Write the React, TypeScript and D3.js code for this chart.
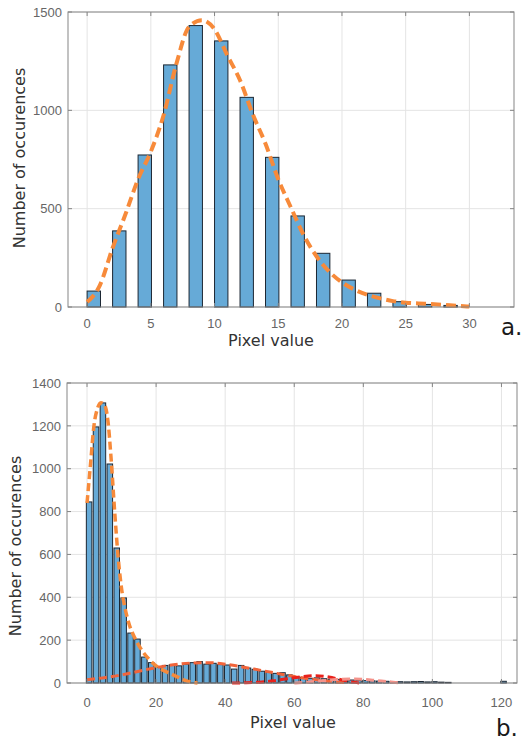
import React from "react";
import * as d3 from "d3";

// ---- panel a. ----
const topBins = [0, 2, 4, 6, 8, 10, 12, 14, 16, 18, 20, 22, 24, 26, 28];
const topCounts = [81, 387, 773, 1231, 1431, 1353, 1066, 761, 463, 273, 137, 70, 27, 13, 8];
const topFitX = [0, 1, 2, 3, 4, 5, 6, 7, 8, 9, 10, 11, 12, 13, 14, 15, 16, 17, 18, 19, 20, 21, 22, 23, 24, 25, 26, 27, 28, 29, 30];
const topFitY = [25, 110, 300, 470, 650, 790, 975, 1235, 1425, 1458, 1412, 1280, 1153, 980, 830, 650, 505, 365, 258, 180, 125, 88, 62, 44, 30, 22, 18, 15, 11, 6, 2];
const topXTicks = [0, 5, 10, 15, 20, 25, 30];
const topYTicks = [0, 500, 1000, 1500];

// ---- panel b. ----
const botCounts = [
  845, 1195, 1307, 1022, 630, 397, 233, 205, 121, 95, 75, 82, 85, 80, 88, 95, 100, 88, 92, 86, 84, 65, 82, 70, 64, 55,
  50, 45, 48, 38, 30, 26, 22, 24, 20, 18, 17, 15, 14, 12, 11, 10, 9, 8, 7, 6, 5, 6, 7, 5, 6, 4, 3,
  0, 0, 0, 0, 0, 0, 0, 8,
];
const botBins = botCounts.map((_, i) => i * 2);
const fit1X = [0, 1, 2, 3, 4, 5, 6, 7, 8, 9, 10, 11, 12, 14, 16, 18, 20, 22, 24, 26, 28, 30, 32];
const fit1Y = [840, 1020, 1200, 1280, 1308, 1300, 1230, 1040, 800, 590, 440, 350, 285, 205, 150, 110, 80, 60, 45, 30, 15, 5, 0];
const fit2X = [0, 5, 10, 15, 20, 25, 30, 35, 40, 45, 50, 55, 60, 65, 70, 75];
const fit2Y = [15, 25, 38, 55, 72, 85, 93, 95, 88, 75, 60, 45, 30, 18, 8, 2];
const fit3X = [42, 46, 50, 54, 58, 62, 66, 70, 74, 77, 79];
const fit3Y = [0, 1, 4, 10, 20, 29, 34, 28, 14, 4, 0];
const fit4X = [60, 64, 68, 72, 76, 80, 84, 88, 91];
const fit4Y = [0, 4, 10, 16, 19, 17, 11, 5, 0];
const botXTicks = [0, 20, 40, 60, 80, 100, 120];
const botYTicks = [0, 200, 400, 600, 800, 1000, 1200, 1400];

const BAR_FILL = "#66aad7";
const BAR_EDGE = "#1c2733";
const GRID = "#e4e4e4";
const FRAME = "#858585";
const TICK_TXT = "#666666";
const LABEL_TXT = "#333333";

type Curve = { xs: number[]; ys: number[]; color: string; width: number; dash: string };

type PanelProps = {
  left: number; right: number; top: number; bottom: number;
  xDomain: [number, number]; yDomain: [number, number];
  xTicks: number[]; yTicks: number[];
  bins: number[]; counts: number[]; barOffset: number; barWidth: number;
  curves: Curve[];
  xLabelX: number; xLabelY: number; tickY: number;
  yLabelX: number; yLabelY: number;
  tag: string; tagX: number; tagY: number;
};

const Panel = (p: PanelProps) => {
  const x = d3.scaleLinear().domain(p.xDomain).range([p.left, p.right]);
  const y = d3.scaleLinear().domain(p.yDomain).range([p.bottom, p.top]);
  const tl = 4;

  return (
    <g>
      {p.xTicks.map((t) => (
        <line key={"gx" + t} x1={x(t)} x2={x(t)} y1={p.top} y2={p.bottom} stroke={GRID} />
      ))}
      {p.yTicks.map((t) => (
        <line key={"gy" + t} x1={p.left} x2={p.right} y1={y(t)} y2={y(t)} stroke={GRID} />
      ))}
      {p.bins.map((b, i) =>
        p.counts[i] > 0 ? (
          <rect
            key={"b" + i}
            x={x(b + p.barOffset)}
            y={y(p.counts[i])}
            width={x(b + p.barOffset + p.barWidth) - x(b + p.barOffset)}
            height={y(0) - y(p.counts[i])}
            fill={BAR_FILL}
            stroke={BAR_EDGE}
            strokeWidth={1}
          />
        ) : null
      )}
      {p.curves.map((c, ci) => {
        const line = d3
          .line<number>()
          .x((_, i) => x(c.xs[i]))
          .y((d) => y(d))
          .curve(d3.curveMonotoneX);
        return (
          <path key={"c" + ci} d={line(c.ys) || ""} fill="none" stroke={c.color}
            strokeWidth={c.width} strokeDasharray={c.dash} />
        );
      })}
      <rect x={p.left} y={p.top} width={p.right - p.left} height={p.bottom - p.top}
        fill="none" stroke={FRAME} strokeWidth={1} />
      {p.xTicks.map((t) => (
        <g key={"tx" + t}>
          <line x1={x(t)} x2={x(t)} y1={p.bottom} y2={p.bottom - tl} stroke={FRAME} />
          <line x1={x(t)} x2={x(t)} y1={p.top} y2={p.top + tl} stroke={FRAME} />
          <text x={x(t)} y={p.tickY} textAnchor="middle" fontFamily="Liberation Sans, Arial, sans-serif"
            fontSize={13} fill={TICK_TXT}>{t}</text>
        </g>
      ))}
      {p.yTicks.map((t) => (
        <g key={"ty" + t}>
          <line x1={p.left} x2={p.left + tl} y1={y(t)} y2={y(t)} stroke={FRAME} />
          <line x1={p.right} x2={p.right - tl} y1={y(t)} y2={y(t)} stroke={FRAME} />
          <text x={p.left - 6} y={y(t)} dy="0.36em" textAnchor="end"
            fontFamily="Liberation Sans, Arial, sans-serif" fontSize={13} fill={TICK_TXT}>{t}</text>
        </g>
      ))}
      <text x={p.xLabelX} y={p.xLabelY} textAnchor="middle" fontFamily="DejaVu Sans, sans-serif"
        fontSize={16} fill={LABEL_TXT}>Pixel value</text>
      <text transform={`translate(${p.yLabelX},${p.yLabelY}) rotate(-90)`} textAnchor="middle"
        dy="0.36em" fontFamily="DejaVu Sans, sans-serif" fontSize={16} fill={LABEL_TXT}>
        Number of occurences
      </text>
      <text x={p.tagX} y={p.tagY} fontFamily="DejaVu Sans, sans-serif" fontSize={23} fill="#1a1a1a">{p.tag}</text>
    </g>
  );
};

export default function App() {
  return (
    <svg width={524} height={740} style={{ position: "absolute", left: 0, top: 0, background: "#fff" }}>
      <Panel
        left={68} right={514} top={12} bottom={307}
        xDomain={[-1.5, 33.5]} yDomain={[0, 1500]}
        xTicks={topXTicks} yTicks={topYTicks}
        bins={topBins} counts={topCounts} barOffset={0} barWidth={1.05}
        curves={[{ xs: topFitX, ys: topFitY, color: "#f78a3a", width: 4, dash: "10 5" }]}
        xLabelX={271} xLabelY={346} tickY={328}
        yLabelX={19} yLabelY={158}
        tag="a." tagX={501} tagY={335}
      />
      <Panel
        left={67} right={517} top={383} bottom={683}
        xDomain={[-5.8, 124.5]} yDomain={[0, 1400]}
        xTicks={botXTicks} yTicks={botYTicks}
        bins={botBins} counts={botCounts} barOffset={-0.2} barWidth={1.6}
        curves={[
          { xs: fit2X, ys: fit2Y, color: "#f2643a", width: 3, dash: "8 4" },
          { xs: fit3X, ys: fit3Y, color: "#e8221c", width: 3, dash: "8 4" },
          { xs: fit4X, ys: fit4Y, color: "#f4928a", width: 3, dash: "8 4" },
          { xs: fit1X, ys: fit1Y, color: "#f78a3a", width: 3.5, dash: "8 4" },
        ]}
        xLabelX={293} xLabelY={728} tickY={707}
        yLabelX={15} yLabelY={546}
        tag="b." tagX={496} tagY={736}
      />
    </svg>
  );
}
